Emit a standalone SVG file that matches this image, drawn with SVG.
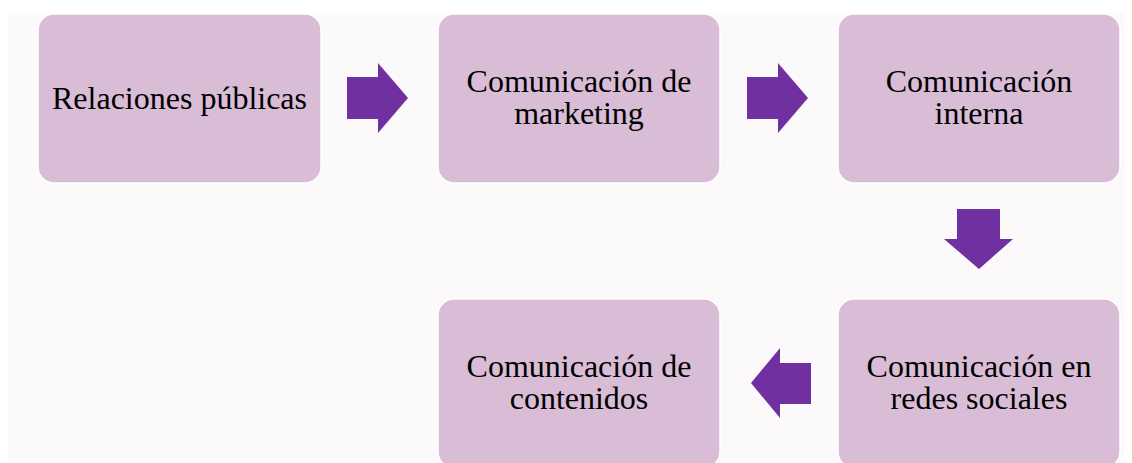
<svg xmlns="http://www.w3.org/2000/svg" width="1132" height="463" viewBox="0 0 1132 463">
<style>
.node{fill:#D9BDD6;stroke:#FFFFFF;stroke-width:1.5}
.arrow{fill:#7030A0}
text{font-family:"Liberation Serif","Times New Roman",serif;font-size:32px;fill:#000;text-anchor:middle}
</style>
<rect x="0" y="0" width="1132" height="463" fill="#FFFFFF"/>
<rect x="8" y="13" width="1116" height="452" fill="#FCF9FB"/>
<g id="node-relaciones">
<rect class="node" x="38" y="14" width="283" height="169" rx="16"/>
<text x="179.5" y="109">Relaciones públicas</text>
</g>
<g id="node-marketing">
<rect class="node" x="438" y="14" width="282" height="169" rx="16"/>
<text x="579" y="92">Comunicación de</text>
<text x="579" y="124">marketing</text>
</g>
<g id="node-interna">
<rect class="node" x="838" y="14" width="282" height="169" rx="16"/>
<text x="979" y="92">Comunicación</text>
<text x="979" y="124">interna</text>
</g>
<g id="node-redes">
<rect class="node" x="838" y="299" width="282" height="169" rx="16"/>
<text x="979" y="377">Comunicación en</text>
<text x="979" y="409">redes sociales</text>
</g>
<g id="node-contenidos">
<rect class="node" x="438" y="299" width="282" height="169" rx="16"/>
<text x="579" y="377">Comunicación de</text>
<text x="579" y="409">contenidos</text>
</g>
<g id="connectors">
<polygon class="arrow" points="347,77 378,77 378,63 408,98 378,133 378,119 347,119"/>
<polygon class="arrow" points="747,77 778,77 778,63 808,98 778,133 778,119 747,119"/>
<polygon class="arrow" points="957,209 1000,209 1000,239 1013,239 979,269 944,239 957,239"/>
<polygon class="arrow" points="811,363 780,363 780,348 751,383 780,418 780,404 811,404"/>
</g>
</svg>
